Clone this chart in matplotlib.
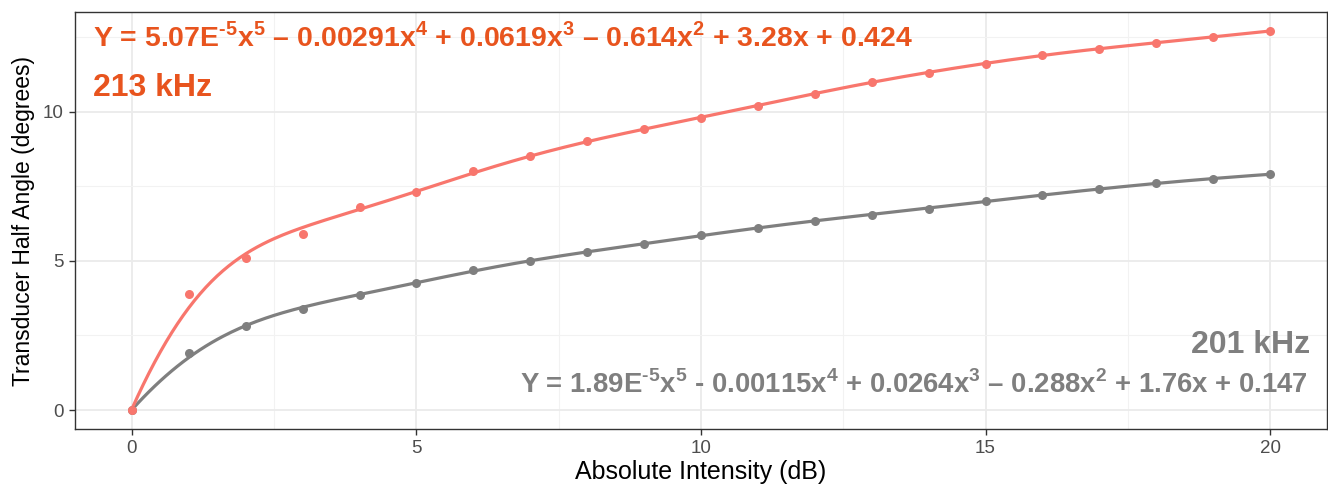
import numpy as np
import matplotlib
matplotlib.use("Agg")
import matplotlib.pyplot as plt
from matplotlib.ticker import MultipleLocator

# Data
intensity = list(range(0, 21))
angle_213 = [0.0, 3.9, 5.1, 5.9, 6.8, 7.3, 8.0, 8.5, 9.0, 9.4, 9.8,
             10.2, 10.6, 11.0, 11.3, 11.6, 11.9, 12.1, 12.3, 12.5, 12.7]
angle_201 = [0.0, 1.9, 2.8, 3.4, 3.85, 4.25, 4.7, 5.0, 5.3, 5.55, 5.85,
             6.1, 6.35, 6.55, 6.75, 7.0, 7.2, 7.4, 7.6, 7.75, 7.9]
label_213 = "213 kHz"
label_201 = "201 kHz"
EN = "\u2013"
eq_213 = (r"Y = 5.07E$^{\mathbf{\text{-}5}}$x$^{\mathbf{5}}$ " + EN + r" 0.00291x$^{\mathbf{4}}$ + 0.0619x$^{\mathbf{3}}$ "
          + EN + r" 0.614x$^{\mathbf{2}}$ + 3.28x + 0.424")
eq_201 = (r"Y = 1.89E$^{\mathbf{\text{-}5}}$x$^{\mathbf{5}}$ - 0.00115x$^{\mathbf{4}}$ + 0.0264x$^{\mathbf{3}}$ "
          + EN + r" 0.288x$^{\mathbf{2}}$ + 1.76x + 0.147")

RED = "#F8766D"
RED_TXT = "#E8541E"
GRAY = "#7F7F7F"
FAM = ["Liberation Sans", "DejaVu Sans"]

plt.rcParams["mathtext.fontset"] = "custom"
plt.rcParams["mathtext.bf"] = "Liberation Sans:bold"
plt.rcParams["mathtext.rm"] = "Liberation Sans:bold"


def smooth_curve(xd, yd, lam, n=401):
    """Penalised (third-difference) smoother evaluated on a fine grid."""
    g = np.linspace(xd.min(), xd.max(), n)
    h = g[1] - g[0]
    idx = np.round((xd - g[0]) / h).astype(int)
    W = np.zeros(n)
    wy = np.zeros(n)
    np.add.at(W, idx, 1.0)
    np.add.at(wy, idx, yd)
    W[0] += 5.0
    D = np.diff(np.eye(n), 3, axis=0)
    M = np.diag(W) + lam / h ** 5 * D.T @ D
    return g, np.linalg.solve(M, wy)


fig = plt.figure(figsize=(13.28, 4.91), dpi=100)
ax = fig.add_axes([75 / 1328, 62 / 491, 1252 / 1328, 417 / 491])

x = np.array(intensity, dtype=float)
for ys, col in ((angle_201, GRAY), (angle_213, RED)):
    gx, gy = smooth_curve(x, np.array(ys), 0.25)
    ax.plot(gx, gy, color=col, lw=2.3, zorder=3, solid_capstyle="round")
    ax.plot(x, ys, "o", color=col, ms=6.5, mec="none", zorder=4)

ax.set_xlim(-1, 21)
ax.set_ylim(-0.635, 13.335)
ax.xaxis.set_major_locator(MultipleLocator(5))
ax.yaxis.set_major_locator(MultipleLocator(5))
ax.xaxis.set_minor_locator(MultipleLocator(2.5))
ax.yaxis.set_minor_locator(MultipleLocator(2.5))
ax.grid(True, which="major", color="#EBEBEB", lw=1.3, zorder=0)
ax.grid(True, which="minor", color="#F2F2F2", lw=0.8, zorder=0)
ax.set_axisbelow(True)
ax.tick_params(which="minor", length=0)
ax.tick_params(which="major", length=4, width=1.0, color="#333333",
               labelsize=13.5, labelcolor="#4D4D4D", pad=4)
for lab in ax.get_xticklabels() + ax.get_yticklabels():
    lab.set_family(FAM)
for s in ax.spines.values():
    s.set_color("#333333")
    s.set_linewidth(1.0)

ax.set_xlabel("Absolute Intensity (dB)", fontsize=18, family=FAM, color="black", labelpad=2)
ax.set_ylabel("Transducer Half Angle (degrees)", fontsize=16.5, family=FAM, color="black", labelpad=6)

ax.text(18 / 1252, 1 - 25 / 417, eq_213, transform=ax.transAxes, ha="left", va="center",
        fontsize=20.4, fontweight="bold", color=RED_TXT, family=FAM)
ax.text(18 / 1252, 1 - 76 / 417, label_213, transform=ax.transAxes, ha="left", va="center",
        fontsize=23, fontweight="bold", color=RED_TXT, family=FAM)
ax.text(1 - 17 / 1252, (429 - 345) / 417, label_201, transform=ax.transAxes, ha="right", va="center",
        fontsize=23, fontweight="bold", color=GRAY, family=FAM)
ax.text(1 - 19 / 1252, (429 - 385) / 417, eq_201, transform=ax.transAxes, ha="right", va="center",
        fontsize=19.8, fontweight="bold", color=GRAY, family=FAM)

fig.savefig("out.png", dpi=100)
